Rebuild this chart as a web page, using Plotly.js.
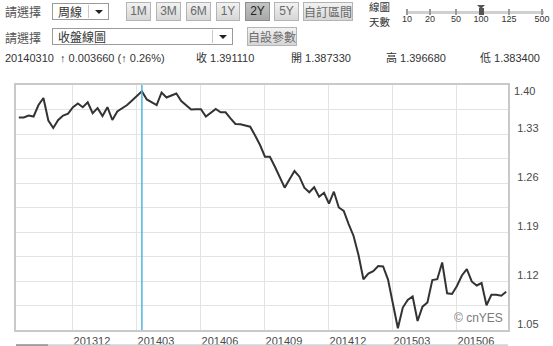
<!DOCTYPE html>
<html>
<head>
<meta charset="utf-8">
<script src="https://cdn.plot.ly/plotly-3.0.1.min.js"></script>
<style>
  html, body { margin: 0; padding: 0; background: #fff; width: 553px; height: 346px; overflow: hidden; }
  #wrap { position: relative; width: 553px; height: 346px; }
  #chart { position: absolute; left: 0; top: 0; width: 553px; height: 346px; }
  .ui { position: absolute; font-family: "Noto Sans CJK TC", "Liberation Sans", sans-serif; }
  .lbl { font-size: 12px; color: #555; line-height: 16px; }
  .sel { border: 1px solid #9a9a9a; background: #fff; height: 17px; box-sizing: border-box; }
  .sel span { position: absolute; left: 5px; top: 0; font-size: 12px; line-height: 15px; color: #333; }
  .sel .div { position: absolute; top: 1px; bottom: 1px; width: 1px; background: #c8c8c8; }
  .sel .arr { position: absolute; top: 6px; width: 0; height: 0; border-left: 4px solid transparent; border-right: 4px solid transparent; border-top: 4px solid #222; }
  .btn { height: 19px; box-sizing: border-box; border: 1px solid #b4b4b4; background: linear-gradient(#f2f2f2, #d6d6d6); color: #6a6a6a; font-size: 12px; line-height: 17px; text-align: center; font-family: "Liberation Sans", "Noto Sans CJK TC", sans-serif; }
  .btn.act { background: linear-gradient(#c4c4c4, #a8a8a8); color: #222; border-color: #8e8e8e; }
  .btn.cjk { font-family: "Noto Sans CJK TC", sans-serif; }
  .info { font-family: "Liberation Sans", "Noto Sans CJK TC", sans-serif; font-size: 11px; color: #333; top: 51px; line-height: 14px; white-space: nowrap; }
  .tk { position: absolute; width: 2px; height: 6px; background: #9a9a9a; top: 9px; }
  .tl { position: absolute; top: 14px; font-size: 9px; color: #333; font-family: "Liberation Sans", sans-serif; transform: translateX(-50%); }
  .two { font-size: 10.5px; line-height: 11px; color: #333; }
</style>
</head>
<body>
<div id="wrap">
  <div id="chart"></div>

  <div class="ui lbl" style="left:5px; top:4px;">請選擇</div>
  <div class="ui sel" style="left:52px; top:3px; width:57px;">
    <span>周線</span><div class="div" style="left:35px;"></div><div class="arr" style="left:42px;"></div>
  </div>
  <div class="ui btn" style="left:126px; top:2px; width:25px;">1M</div>
  <div class="ui btn" style="left:156px; top:2px; width:25px;">3M</div>
  <div class="ui btn" style="left:186px; top:2px; width:25px;">6M</div>
  <div class="ui btn" style="left:216px; top:2px; width:24px;">1Y</div>
  <div class="ui btn act" style="left:245px; top:2px; width:25px;">2Y</div>
  <div class="ui btn" style="left:274px; top:2px; width:25px;">5Y</div>
  <div class="ui btn cjk" style="left:303px; top:2px; width:50px;">自訂區間</div>
  <div class="ui two" style="left:369px; top:1px;">線圖</div>
  <div class="ui two" style="left:369px; top:16px;">天數</div>

  <div class="ui" style="left:406px; top:11px; width:138px; height:3px; background:#d0d0d0;"></div>
  <div class="tk" style="left:406px;"></div>
  <div class="tk" style="left:429px;"></div>
  <div class="tk" style="left:455px;"></div>
  <div class="tk" style="left:508px;"></div>
  <div class="tk" style="left:541px;"></div>
  <div class="ui" style="left:477px; top:5px; width:0; height:0; border-left:4px solid transparent; border-right:4px solid transparent; border-top:4px solid #555;"></div>
  <div class="ui" style="left:479px; top:8px; width:5px; height:7px; background:#555;"></div>
  <div class="tl" style="left:407px;">10</div>
  <div class="tl" style="left:430px;">20</div>
  <div class="tl" style="left:456px;">50</div>
  <div class="tl" style="left:481px;">100</div>
  <div class="tl" style="left:509px;">125</div>
  <div class="tl" style="left:542px;">500</div>

  <div class="ui lbl" style="left:5px; top:30px;">請選擇</div>
  <div class="ui sel" style="left:52px; top:28px; width:181px;">
    <span>收盤線圖</span><div class="div" style="left:159px;"></div><div class="arr" style="left:166px;"></div>
  </div>
  <div class="ui btn cjk" style="left:247px; top:27px; width:50px;">自設參數</div>

  <div class="ui info" style="left:5px;">20140310 &nbsp;↑ 0.003660 (↑ 0.26%)</div>
  <div class="ui info" style="left:196px;">收 1.391110</div>
  <div class="ui info" style="left:291px;">開 1.387330</div>
  <div class="ui info" style="left:386px;">高 1.396680</div>
  <div class="ui info" style="left:480px;">低 1.383400</div>
</div>

<script>
// Weekly closes (Mondays), 2013-09-16 .. 2015-08-10
const dates = [
  "2013-09-16","2013-09-23","2013-09-30","2013-10-07","2013-10-14","2013-10-21","2013-10-28",
  "2013-11-04","2013-11-11","2013-11-18","2013-11-25","2013-12-02","2013-12-09","2013-12-16",
  "2013-12-23","2013-12-30","2014-01-06","2014-01-13","2014-01-20","2014-01-27","2014-02-03",
  "2014-02-10","2014-02-17","2014-02-24","2014-03-03","2014-03-10","2014-03-17","2014-03-24",
  "2014-03-31","2014-04-07","2014-04-14","2014-04-21","2014-04-28","2014-05-05","2014-05-12",
  "2014-05-19","2014-05-26","2014-06-02","2014-06-09","2014-06-16","2014-06-23","2014-06-30",
  "2014-07-07","2014-07-14","2014-07-21","2014-07-28","2014-08-04","2014-08-11","2014-08-18",
  "2014-08-25","2014-09-01","2014-09-08","2014-09-15","2014-09-22","2014-09-29","2014-10-06",
  "2014-10-13","2014-10-20","2014-10-27","2014-11-03","2014-11-10","2014-11-17","2014-11-24",
  "2014-12-01","2014-12-08","2014-12-15","2014-12-22","2014-12-29","2015-01-05","2015-01-12",
  "2015-01-19","2015-01-26","2015-02-02","2015-02-09","2015-02-16","2015-02-23","2015-03-02",
  "2015-03-09","2015-03-16","2015-03-23","2015-03-30","2015-04-06","2015-04-13","2015-04-20",
  "2015-04-27","2015-05-04","2015-05-11","2015-05-18","2015-05-25","2015-06-01","2015-06-08",
  "2015-06-15","2015-06-22","2015-06-29","2015-07-06","2015-07-13","2015-07-20","2015-07-27",
  "2015-08-03","2015-08-10"
];
const closes = [
  1.3536,1.3536,1.3564,1.3550,1.3714,1.3814,1.3493,1.3386,1.3500,1.3564,
  1.3590,1.3683,1.3736,1.3683,1.3754,1.3597,1.3669,1.3557,1.3683,1.3500,
  1.3621,1.3671,1.3714,1.3779,1.3850,1.39111,1.3793,1.3757,1.3714,1.3893,
  1.3821,1.3850,1.3879,1.3771,1.3707,1.3650,1.3653,1.3653,1.3550,1.3610,
  1.3657,1.3610,1.3610,1.3524,1.3443,1.3439,1.3419,1.3404,1.3279,1.3143,
  1.2976,1.2976,1.2836,1.2686,1.2533,1.2653,1.2771,1.2690,1.2533,1.2467,
  1.2539,1.2404,1.2461,1.2307,1.2476,1.2250,1.2200,1.2014,1.1843,1.1571,
  1.1224,1.1307,1.1340,1.1414,1.1407,1.1221,1.0881,1.0524,1.0821,1.0929,
  1.0979,1.0629,1.0833,1.0893,1.1214,1.1226,1.1464,1.1024,1.1014,1.1129,
  1.1279,1.1369,1.1193,1.1136,1.1171,1.0853,1.1004,1.1004,1.0989,1.1047
];
const xTickVals = ["2013-12-02","2014-03-03","2014-06-02","2014-09-01","2014-12-01","2015-03-02","2015-06-01"];
const xTickText = ["201312","201403","201406","201409","201412","201503","201506"];
const yTickVals = [1.05, 1.12, 1.19, 1.26, 1.33];
const yTickText = ["1.05", "1.12", "1.19", "1.26", "1.33"];
const yTopTickVals = [1.40];
const yTopTickText = ["1.40"];
const crossDate = "2014-03-10";

const gridC = "#e3e3e3";
const frameC = "#c9c9c9";
const tickFont = { family: "Liberation Sans, Arial, sans-serif", size: 11, color: "#4a4a4a" };

const trace = {
  x: dates, y: closes, type: "scatter", mode: "lines",
  line: { color: "#333333", width: 2 }, hoverinfo: "skip", showlegend: false
};

const layout = {
  width: 553, height: 346,
  margin: { l: 16, r: 45, t: 85, b: 16, pad: 0 },
  paper_bgcolor: "rgba(0,0,0,0)", plot_bgcolor: "#ffffff",
  showlegend: false,
  xaxis: {
    type: "date", range: ["2013-09-12", "2015-08-12 14:00"],
    tickmode: "array", tickvals: xTickVals, ticktext: xTickText,
    ticklabelshift: 19, ticks: "", tickfont: tickFont,
    showgrid: true, gridcolor: gridC, gridwidth: 1,
    showline: true, mirror: true, linecolor: frameC, linewidth: 2,
    zeroline: false, fixedrange: true
  },
  yaxis: {
    side: "right", range: [1.05, 1.40],
    tickmode: "array", tickvals: yTickVals, ticktext: yTickText,
    ticklabelshift: -6, ticklabelstandoff: 5, ticks: "", tickfont: tickFont,
    showgrid: true, gridcolor: gridC, gridwidth: 1,
    minor: { tick0: 1.05, dtick: 0.035, showgrid: true, gridcolor: gridC, gridwidth: 1, ticks: "" },
    showline: true, mirror: true, linecolor: frameC, linewidth: 2,
    zeroline: false, fixedrange: true
  },
  yaxis2: {
    overlaying: "y", anchor: "x", side: "right", range: [1.05, 1.40],
    tickmode: "array", tickvals: yTopTickVals, ticktext: yTopTickText,
    ticklabelshift: 6, ticklabelstandoff: 5, ticks: "", tickfont: tickFont,
    showgrid: false, showline: false, zeroline: false, fixedrange: true
  },
  shapes: [
    { type: "line", xref: "x", yref: "paper", x0: crossDate, x1: crossDate, y0: 0, y1: 1,
      line: { color: "#4fb4e4", width: 1.5 } },
    { type: "rect", xref: "paper", yref: "paper", x0: 0, x1: 1, y0: -0.075, y1: -0.058,
      fillcolor: "#d4d4d4", line: { width: 0 } },
    { type: "rect", xref: "paper", yref: "paper", x0: 0, x1: 0.065, y0: -0.075, y1: -0.058,
      fillcolor: "#9c9c9c", line: { width: 0 } }
  ],
  annotations: [
    { xref: "paper", yref: "paper", x: 1, y: 0, xanchor: "right", yanchor: "bottom",
      xshift: -3, yshift: 3, showarrow: false, text: "© cnYES",
      font: { family: "Liberation Sans, Arial, sans-serif", size: 12, color: "#7a7a7a" } }
  ]
};

const trace2 = { x: [dates[0]], y: [closes[0]], yaxis: "y2", type: "scatter", mode: "markers",
  marker: { opacity: 0 }, hoverinfo: "skip", showlegend: false };

Plotly.newPlot("chart", [trace, trace2], layout, { displayModeBar: false, staticPlot: true });
</script>
</body>
</html>
